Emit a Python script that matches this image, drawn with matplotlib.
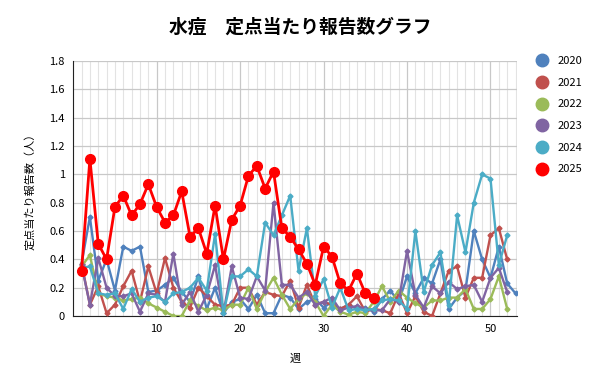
import matplotlib
matplotlib.use('Agg')
import matplotlib.pyplot as plt
from matplotlib.lines import Line2D
from matplotlib.ticker import MultipleLocator, FormatStrFormatter

plt.rcParams['font.family'] = ['Noto Sans CJK JP', 'DejaVu Sans']

# weekly values per sentinel site
y2020 = [0.37, 0.70, 0.25, 0.40, 0.18, 0.49, 0.46, 0.49, 0.17, 0.18,
         0.22, 0.27, 0.17, 0.10, 0.28, 0.05, 0.20, 0.02, 0.10, 0.12,
         0.05, 0.15, 0.02, 0.02, 0.15, 0.13, 0.05, 0.10, 0.12, 0.06,
         0.10, 0.05, 0.08, 0.05, 0.06, 0.03, 0.12, 0.18, 0.10, 0.28,
         0.16, 0.27, 0.23, 0.40, 0.05, 0.13, 0.18, 0.60, 0.40, 0.27,
         0.49, 0.23, 0.16]
y2021 = [0.37, 0.08, 0.21, 0.02, 0.08, 0.21, 0.32, 0.10, 0.35, 0.16,
         0.41, 0.20, 0.10, 0.06, 0.20, 0.14, 0.08, 0.07, 0.08, 0.20,
         0.20, 0.08, 0.17, 0.15, 0.14, 0.25, 0.06, 0.22, 0.08, 0.10,
         0.08, 0.05, 0.08, 0.14, 0.03, 0.05, 0.04, 0.02, 0.16, 0.02,
         0.14, 0.03, 0.00, 0.16, 0.32, 0.35, 0.13, 0.27, 0.27, 0.57,
         0.62, 0.40]
y2022 = [0.35, 0.43, 0.16, 0.14, 0.13, 0.11, 0.12, 0.13, 0.09, 0.06,
         0.03, 0.00, 0.00, 0.11, 0.07, 0.04, 0.06, 0.04, 0.08, 0.08,
         0.20, 0.05, 0.17, 0.27, 0.15, 0.05, 0.12, 0.16, 0.10, 0.00,
         0.08, 0.03, 0.01, 0.03, 0.02, 0.10, 0.21, 0.10, 0.18, 0.13,
         0.09, 0.06, 0.11, 0.11, 0.13, 0.13, 0.19, 0.05, 0.05, 0.12,
         0.28, 0.05]
y2023 = [0.36, 0.08, 0.41, 0.20, 0.14, 0.14, 0.16, 0.03, 0.16, 0.15,
         0.10, 0.44, 0.08, 0.17, 0.03, 0.15, 0.36, 0.02, 0.35, 0.13,
         0.12, 0.28, 0.18, 0.80, 0.22, 0.22, 0.13, 0.17, 0.08, 0.10,
         0.13, 0.04, 0.06, 0.07, 0.05, 0.04, 0.04, 0.12, 0.10, 0.46,
         0.15, 0.06, 0.21, 0.16, 0.24, 0.19, 0.21, 0.22, 0.10, 0.27,
         0.34, 0.17]
y2024 = [0.34, 0.35, 0.16, 0.15, 0.16, 0.05, 0.19, 0.10, 0.13, 0.14,
         0.10, 0.16, 0.17, 0.20, 0.27, 0.18, 0.58, 0.02, 0.28, 0.28,
         0.33, 0.28, 0.66, 0.57, 0.71, 0.85, 0.32, 0.62, 0.14, 0.26,
         0.06, 0.20, 0.04, 0.05, 0.04, 0.05, 0.11, 0.12, 0.11, 0.05,
         0.60, 0.17, 0.36, 0.45, 0.08, 0.71, 0.45, 0.80, 1.00, 0.97,
         0.36, 0.57]
y2025 = [0.32, 1.11, 0.51, 0.40, 0.77, 0.85, 0.71, 0.79, 0.93, 0.77,
         0.66, 0.71, 0.88, 0.56, 0.62, 0.44, 0.78, 0.40, 0.68, 0.78,
         0.99, 1.06, 0.90, 1.02, 0.62, 0.56, 0.47, 0.37, 0.22, 0.49,
         0.42, 0.23, 0.18, 0.30, 0.16, 0.13]

years = ['2020', '2021', '2022', '2023', '2024', '2025']
colors = ['#4F81BD', '#C0504D', '#9BBB59', '#8064A2', '#4BACC6', '#FF0000']
series = [y2020, y2021, y2022, y2023, y2024, y2025]
xticks = [10, 20, 30, 40, 50]

fig = plt.figure(figsize=(6, 3.84), dpi=100)
ax = fig.add_axes([0.122, 0.177, 0.74, 0.664])

for yr, c, vals in zip(years, colors, series):
    weeks = range(1, len(vals) + 1)
    if yr == '2025':
        ax.plot(weeks, vals, color=c, lw=2, marker='o', ms=7, zorder=5)
    else:
        ax.plot(weeks, vals, color=c, lw=1.7, marker='D', ms=2.5, zorder=3)

ax.set_xlim(0, 53.2)
ax.set_ylim(0, 1.8)
ax.set_xticks(xticks)
ax.xaxis.set_minor_locator(MultipleLocator(1))
ax.yaxis.set_major_locator(MultipleLocator(0.2))
ax.yaxis.set_major_formatter(FormatStrFormatter('%g'))
ax.grid(which='minor', axis='x', color='#e3e3e3', lw=0.8)
ax.grid(which='major', axis='x', color='#c8c8c8', lw=0.9)
ax.grid(which='major', axis='y', color='#c8c8c8', lw=0.9)
ax.set_axisbelow(True)
ax.tick_params(which='both', length=0, labelsize=8, pad=6)
for s in ['top', 'right']:
    ax.spines[s].set_visible(False)
ax.spines['left'].set_color('#222222')
ax.spines['bottom'].set_color('#222222')

ax.set_xlabel('週', fontsize=8, labelpad=14)
ax.set_ylabel('定点当たり報告数（人）', fontsize=8, labelpad=10)
fig.suptitle('水痘　定点当たり報告数グラフ', fontsize=13.5, fontweight='bold', y=0.955)

handles = [Line2D([], [], ls='', marker='o', ms=9, color=c) for c in colors]
fig.legend(handles, years, loc='upper left', bbox_to_anchor=(0.868, 0.88),
           frameon=False, fontsize=8, labelspacing=1.05, handletextpad=0.4)

fig.savefig('out.png', dpi=100)
